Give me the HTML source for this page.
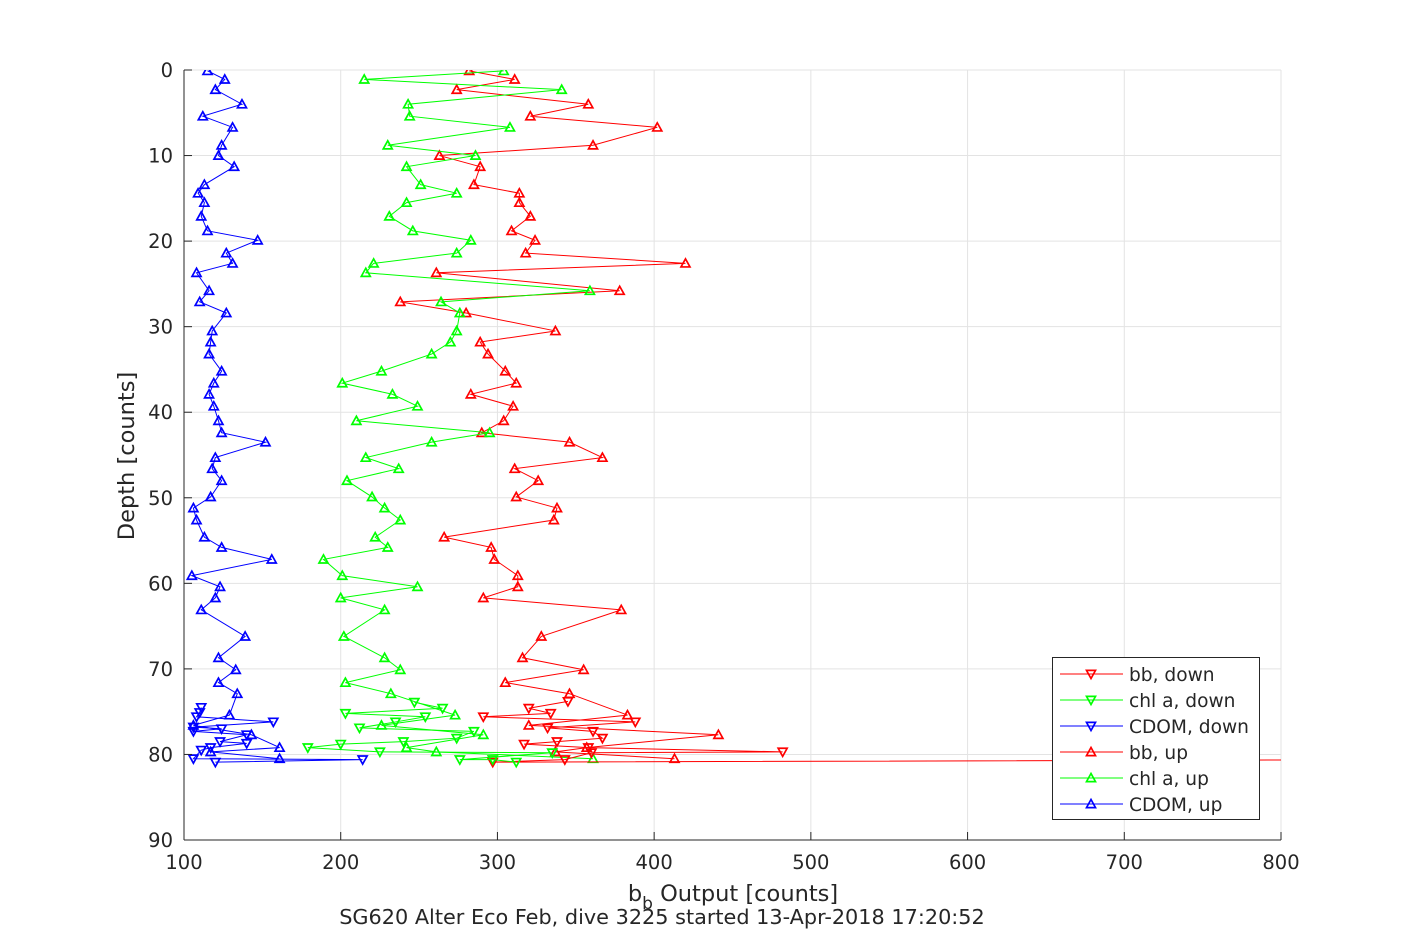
<!DOCTYPE html>
<html><head><meta charset="utf-8"><style>
body{margin:0;background:#fff;}
svg text{font-family:"DejaVu Sans","Liberation Sans",sans-serif;fill:#262626;}
</style></head><body>
<svg id="chart" width="1417" height="945" viewBox="0 0 1417 945" xmlns="http://www.w3.org/2000/svg">
<rect width="1417" height="945" fill="#fff"/>
<defs><clipPath id="pc"><rect x="184" y="70" width="1097" height="770"/></clipPath></defs>
<g id="grid"></g>
<g id="series" clip-path="url(#pc)"></g>
<g id="axes"></g>
<text x="733" y="901" text-anchor="middle" font-size="22.5">b<tspan font-size="17" dy="8">b</tspan><tspan dy="-8"> Output [counts]</tspan></text>
<text x="662" y="924" text-anchor="middle" font-size="20.8">SG620 Alter Eco Feb, dive 3225 started 13-Apr-2018 17:20:52</text>
<text transform="translate(134,456) rotate(-90)" text-anchor="middle" font-size="22.5">Depth [counts]</text>
<g id="legend"></g>
</svg>
<script>
const xTicks=[100,200,300,400,500,600,700,800];
const yTicks=[0,10,20,30,40,50,60,70,80,90];
const depthUp=[0.1,1.1,2.3,4.0,5.4,6.7,8.8,10.0,11.3,13.4,14.4,15.5,17.1,18.8,19.9,21.4,22.6,23.7,25.8,27.1,28.4,30.5,31.8,33.2,35.2,36.6,37.9,39.3,41.0,42.4,43.5,45.3,46.6,48.0,49.9,51.2,52.6,54.6,55.8,57.2,59.1,60.4,61.7,63.1,66.2,68.7,70.1,71.6,72.9,75.4,76.6,77.7,79.2,79.7,80.5];
const bbUp=[282,311,274,358,321,402,361,263,289,285,314,314,321,309,324,318,420,261,378,238,280,337,289,294,305,312,283,310,304,290,346,367,311,326,312,338,336,266,296,298,313,313,291,379,328,316,355,305,346,383,320,441,357,337,413];
const chlUp=[304,215,341,243,244,308,230,286,242,251,274,242,231,246,283,274,221,216,359,264,276,274,270,258,226,201,233,249,210,295,258,216,237,204,220,228,238,222,230,189,201,249,200,228,202,228,238,203,232,273,226,291,242,261,361];
const cdomUp=[115,126,120,137,112,131,124,122,132,113,109,113,111,115,147,127,131,108,116,110,127,118,117,116,124,119,116,119,122,124,152,120,118,124,117,106,108,113,124,156,105,123,120,111,139,122,133,122,134,129,106,143,161,117,161];
const bbDownDepth=[73.8,74.6,75.2,75.6,76.2,76.9,77.3,78.1,78.5,78.8,79.2,79.7,79.8,80.6,80.9,80.6];
const bbDown=[345,320,334,291,388,332,361,367,338,317,358,482,360,343,297,900];
const chlDownDepth=[73.9,74.6,75.2,75.6,76.2,76.9,77.3,78.1,78.5,78.8,79.2,79.7,79.8,80.6,80.6,80.9];
const chlDown=[247,265,203,254,235,212,285,274,240,200,179,225,335,276,297,312];
const cdomDownDepth=[74.5,75.1,75.6,76.2,76.8,77.0,77.3,77.7,78.5,78.7,79.2,79.5,80.5,80.6,80.9];
const cdomDown=[111,110,108,157,106,124,106,140,123,140,117,111,106,214,120];
const seriesNames=["bb, down","chl a, down","CDOM, down","bb, up","chl a, up","CDOM, up"];

const X0=184,X1=1281,Y0=70,Y1=840;
const sx=v=>X0+(v-100)/700*(X1-X0);
const sy=d=>Y0+d/90*(Y1-Y0);
const NS="http://www.w3.org/2000/svg";
function mk(t,p,parent){const e=document.createElementNS(NS,t);for(const k in p)e.setAttribute(k,p[k]);parent.appendChild(e);return e;}
const grid=document.getElementById('grid'),axes=document.getElementById('axes'),ser=document.getElementById('series'),leg=document.getElementById('legend');
xTicks.forEach(t=>{const l=mk('line',{x1:sx(t),x2:sx(t),y1:Y0,y2:Y1,stroke:'#e3e3e3','stroke-width':1},grid);


const tk=mk('line',{x1:sx(t),x2:sx(t),y1:Y1,y2:Y1-8,stroke:'#262626'},axes);


const tx=mk('text',{x:sx(t),y:Y1+29,'text-anchor':'middle','font-size':19.5},axes);tx.textContent=t;

});
yTicks.forEach(t=>{const l=mk('line',{x1:X0,x2:X1,y1:sy(t),y2:sy(t),stroke:'#e3e3e3','stroke-width':1},grid);


const tk=mk('line',{x1:X0,x2:X0+8,y1:sy(t),y2:sy(t),stroke:'#262626'},axes);


const tx=mk('text',{x:X0-11,y:sy(t)+7,'text-anchor':'end','font-size':19.5},axes);tx.textContent=t;

});
const ax1=mk('line',{x1:X0,x2:X0,y1:Y0,y2:Y1,stroke:'#262626'},axes);


const ax2=mk('line',{x1:X0,x2:X1,y1:Y1,y2:Y1,stroke:'#262626'},axes);


function tri(x,y,up,col,parent){const s=4.5;const pts=up?`${x},${y-s} ${x-s},${y+s*0.8} ${x+s},${y+s*0.8}`:`${x},${y+s} ${x-s},${y-s*0.8} ${x+s},${y-s*0.8}`;
const m=mk('polygon',{points:pts,fill:'none',stroke:col,'stroke-width':1.7},parent);

}
function draw(vals,deps,col,up,name){const g=mk('g',{},ser);


const pts=vals.map((v,i)=>sx(v)+','+sy(deps[i])).join(' ');
mk('polyline',{points:pts,fill:'none',stroke:col,'stroke-width':1},g);
vals.forEach((v,i)=>tri(sx(v),sy(deps[i]),up,col,g));}
draw(bbUp,depthUp,'#ff0000',true,'series-bb-up');
draw(chlUp,depthUp,'#00ff00',true,'series-chl-up');
draw(cdomUp,depthUp,'#0000ff',true,'series-cdom-up');
draw(bbDown,bbDownDepth,'#ff0000',false,'series-bb-down');
draw(chlDown,chlDownDepth,'#00ff00',false,'series-chl-down');
draw(cdomDown,cdomDownDepth,'#0000ff',false,'series-cdom-down');
const box=mk('rect',{x:1052.5,y:657.5,width:207,height:162,fill:'#fff',stroke:'#262626','stroke-width':1},leg);


const cols=['#ff0000','#00ff00','#0000ff','#ff0000','#00ff00','#0000ff'];
seriesNames.forEach((n,i)=>{const y=674+i*26;const g=mk('g',{},leg);


mk('line',{x1:1060,x2:1123,y1:y,y2:y,stroke:cols[i]},g);tri(1091,y,i>=3,cols[i],g);
const t=mk('text',{x:1129,y:y+7,'font-size':18.6},g);t.textContent=n;});
</script>
</body></html>
